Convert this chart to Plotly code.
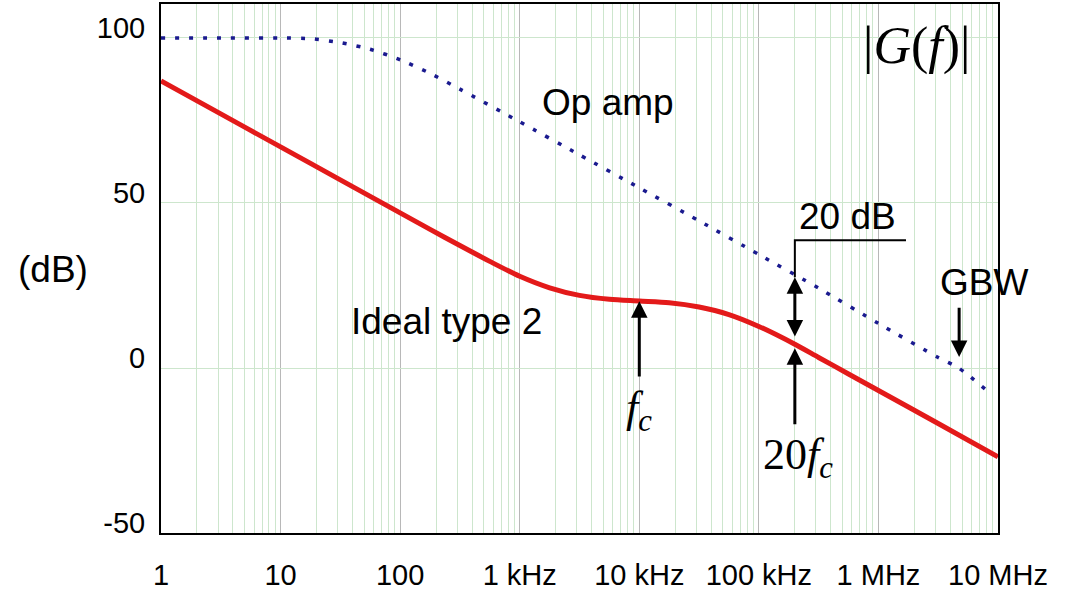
import numpy as np
import plotly.graph_objects as go

# Frequency samples (Hz) and magnitudes (dB).
frequency = [1, 3.16, 10, 17.8, 31.6, 56.2, 100, 178, 316, 562, 1000, 1780, 3160, 5620,
             10000, 17800, 31600, 56200, 100000, 200000, 316000, 562000, 1000000, 3160000, 10000000]
ideal_type_2 = [87.0, 77.0, 67.0, 62.0, 57.0, 52.0, 47.0, 42.0, 37.1, 32.3, 27.8, 24.3, 22.0, 20.8,
                20.3, 19.8, 18.5, 16.2, 12.6, 7.2, 3.2, -1.8, -6.8, -16.8, -26.9]

frequency_op_amp = [1, 3.16, 10, 17.8, 31.6, 56.2, 100, 178, 316, 1000, 3160,
                    10000, 31600, 100000, 316000, 1000000, 3160000, 4700000, 8500000]
op_amp = [100.0, 100.0, 100.0, 99.8, 98.6, 96.6, 93.4, 89.3, 84.5, 74.6, 64.6,
          54.6, 44.6, 34.4, 24.2, 13.5, 3.2, 0.0, -7.5]

tick_values = [1, 10, 100, 1e3, 1e4, 1e5, 1e6, 1e7]
tick_labels = ['1', '10', '100', '1 kHz', '10 kHz', '100 kHz', '1 MHz', '10 MHz']
db_ticks = [-50, 0, 50, 100]
db_labels = ['-50', '0', '50', '100']

# Crossover frequency and the 20 fc marker.
f_c = 10000
f_20 = 20 * f_c


def main():

    sans = 'Liberation Sans, Arial, sans-serif'
    serif = 'Liberation Serif, Times New Roman, serif'

    figure = go.Figure()
    figure.add_trace(go.Scatter(
        x=frequency_op_amp,
        y=op_amp,
        mode='lines',
        line=dict(color='#1a1a8f', width=3.5, dash='4px,10px', shape='spline', smoothing=0.6),
        hoverinfo='none'
    ))
    figure.add_trace(go.Scatter(
        x=frequency,
        y=ideal_type_2,
        mode='lines',
        line=dict(color='#e31a1a', width=5, shape='spline', smoothing=0.8),
        hoverinfo='none'
    ))
    # Bracket above the 20 dB gap.
    figure.add_trace(go.Scatter(
        x=[f_20, f_20, 1.7e6],
        y=[27.5, 38.7, 38.7],
        mode='lines',
        line=dict(color='black', width=2),
        hoverinfo='none'
    ))

    arrow = dict(showarrow=True, arrowhead=2, arrowsize=1.1, arrowwidth=3, arrowcolor='black',
                 axref='x', ayref='y', xref='x', yref='y', text='', standoff=0)
    annotations = [
        dict(arrow, x=np.log10(f_c), y=20.2, ax=np.log10(f_c), ay=-3.0),
        dict(arrow, x=np.log10(f_20), y=6.0, ax=np.log10(f_20), ay=-17.5),
        dict(arrow, x=np.log10(f_20), y=27.5, ax=np.log10(f_20), ay=9.1,
             arrowside='end+start'),
        dict(arrow, x=6.675, y=3.3, ax=6.675, ay=18.7),
        dict(x=3.74, y=80.4, text='Op amp', showarrow=False,
             font=dict(family=sans, size=37, color='black')),
        dict(x=2.39, y=14.2, text='Ideal type 2', showarrow=False,
             font=dict(family=sans, size=37, color='black')),
        dict(x=5.74, y=45.9, text='20 dB', showarrow=False,
             font=dict(family=sans, size=37, color='black')),
        dict(x=6.88, y=26.0, text='GBW', showarrow=False,
             font=dict(family=sans, size=37, color='black')),
        dict(x=6.32, y=97.5, text='|<i>G</i>(<i>f</i>)|', showarrow=False,
             font=dict(family=serif, size=52, color='black')),
        dict(x=np.log10(f_c), y=-13.0, text='<i>f</i><sub><i>c</i></sub>', showarrow=False,
             font=dict(family=serif, size=44, color='black')),
        dict(x=5.33, y=-27.2, text='20<i>f</i><sub><i>c</i></sub>', showarrow=False,
             font=dict(family=serif, size=44, color='black')),
        dict(x=-0.129, xref='paper', xanchor='center', y=29.9, text='(dB)', showarrow=False,
             font=dict(family=sans, size=37, color='black')),
    ]

    figure.update(layout=go.Layout(
        width=1080, height=603,
        showlegend=False,
        plot_bgcolor='white',
        paper_bgcolor='white',
        margin=dict(l=161, r=82, t=2, b=70),
        annotations=annotations,
        xaxis=dict(
            type='log', range=[0, 7],
            tickvals=tick_values, ticktext=tick_labels, ticks='',
            tickfont=dict(family=sans, size=29, color='black'),
            ticklabelstandoff=15,
            showgrid=True, gridcolor='#b8b8b8', gridwidth=1,
            minor=dict(dtick='D1', showgrid=True, gridcolor='#cde6cd', gridwidth=1, ticks=''),
            showline=True, linecolor='black', linewidth=2, mirror=True, zeroline=False
        ),
        yaxis=dict(
            range=[-50, 110.3],
            tickvals=db_ticks, ticktext=db_labels, ticks='',
            tickfont=dict(family=sans, size=29, color='black'),
            ticklabelstandoff=8, ticklabelshift=-10,
            showgrid=True, gridcolor='#cde6cd', gridwidth=1,
            showline=True, linecolor='black', linewidth=2, mirror=True, zeroline=False
        )
    ))
    # Drop the browser's default page margin so the figure sits at the window corner.
    figure.write_html('out.html', config={'displayModeBar': False},
                      post_script="document.body.style.margin = '0px';")


if __name__ == '__main__':
    main()
